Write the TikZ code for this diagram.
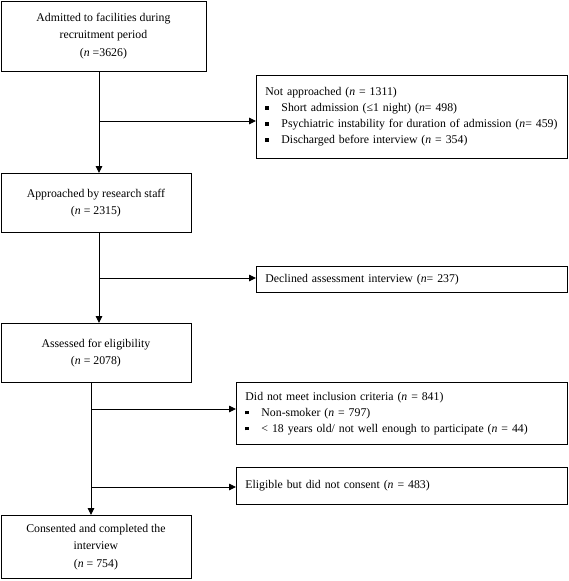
\documentclass[tikz,border=0pt]{standalone}
\usepackage{fontspec}
\setmainfont{Liberation Serif}
\usetikzlibrary{arrows.meta}
\newcommand{\sqb}{\makebox[16pt][l]{\raisebox{2pt}{\rule{3.4pt}{3.4pt}}}}
\tikzset{
  lbox/.style={draw, line width=0.9pt, anchor=north west, align=center, inner sep=0pt,
    font=\fontsize{11.8pt}{17.5pt}\selectfont},
  rbox/.style={draw, line width=0.9pt, anchor=north west, align=left, inner xsep=9pt, inner ysep=0pt,
    font=\fontsize{11.8pt}{16pt}\selectfont},
  arr/.style={line width=0.9pt, -{Triangle[length=7pt,width=6.5pt]}}
}
\begin{document}
\begin{tikzpicture}[x=1pt,y=-1pt]
\useasboundingbox (0,0) rectangle (568,581);
\node[lbox, minimum width=205pt, minimum height=70pt] (adm) at (0.5,0.5)
  {Admitted to facilities during\\recruitment period\\(\textit{n} =3626)};
\node[lbox, minimum width=190pt, minimum height=59pt] (app) at (0.5,173)
  {Approached by research staff\\(\textit{n} = 2315)};
\node[lbox, minimum width=190pt, minimum height=59pt] (ass) at (0.5,323)
  {Assessed for eligibility\\(\textit{n} = 2078)};
\node[lbox, minimum width=190pt, minimum height=63pt] (con) at (0.5,515)
  {Consented and completed the\\interview\\(\textit{n} = 754)};
\node[rbox, text width=293pt, minimum height=83pt] (nap) at (256,75)
  {Not approached (\textit{n} = 1311)\\
   \sqb Short admission (≤1 night) (\textit{n}= 498)\\
   \sqb Psychiatric instability for duration of admission (\textit{n}= 459)\\
   \sqb Discharged before interview (\textit{n} = 354)};
\node[rbox, text width=293pt, minimum height=26pt] (dec) at (256,266)
  {Declined assessment interview (\textit{n}= 237)};
\node[rbox, text width=313pt, minimum height=62pt] (dnm) at (236,382)
  {Did not meet inclusion criteria (\textit{n} = 841)\\
   \sqb Non-smoker (\textit{n} = 797)\\
   \sqb {< 18} years old/ not well enough to participate (\textit{n} = 44)};
\node[rbox, text width=313pt, minimum height=37pt] (eli) at (236,467)
  {Eligible but did not consent (\textit{n} = 483)};
\coordinate (j1) at (99,121);
\coordinate (j2) at (99,278);
\coordinate (j3) at (91,409);
\coordinate (j4) at (91,487);
\draw[arr] (adm.south -| j1) -- (app.north -| j1);
\draw[arr] (j1) -- (j1 -| nap.west);
\draw[arr] (app.south -| j2) -- (ass.north -| j2);
\draw[arr] (j2) -- (j2 -| dec.west);
\draw[arr] (ass.south -| j3) -- (con.north -| j3);
\draw[arr] (j3) -- (j3 -| dnm.west);
\draw[arr] (j4) -- (j4 -| eli.west);
\end{tikzpicture}
\end{document}
